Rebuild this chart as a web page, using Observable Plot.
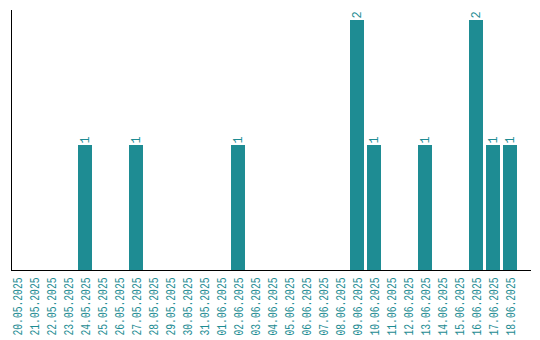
<!DOCTYPE html>
<html>
<head>
<meta charset="utf-8">
<script src="https://cdn.jsdelivr.net/npm/d3@7"></script>
<script src="https://cdn.jsdelivr.net/npm/@observablehq/plot@0.6"></script>
<style>
  html, body { margin: 0; padding: 0; background: #fff; }
  #chart svg { display: block; }
</style>
</head>
<body>
<div id="chart"></div>
<script>
const dates = ["20.05.2025","21.05.2025","22.05.2025","23.05.2025","24.05.2025","25.05.2025","26.05.2025","27.05.2025","28.05.2025","29.05.2025","30.05.2025","31.05.2025","01.06.2025","02.06.2025","03.06.2025","04.06.2025","05.06.2025","06.06.2025","07.06.2025","08.06.2025","09.06.2025","10.06.2025","11.06.2025","12.06.2025","13.06.2025","14.06.2025","15.06.2025","16.06.2025","17.06.2025","18.06.2025"];
const counts = [0,0,0,0,1,0,0,1,0,0,0,0,0,1,0,0,0,0,0,0,2,1,0,0,1,0,0,2,1,1];

const data = dates.map((d, i) => ({date: d, count: counts[i]}));
const nonzero = data.filter(d => d.count > 0);
const teal = "#1e8c93";
const font = "Liberation Mono";

const chart = Plot.plot({
  width: 540,
  height: 340,
  marginLeft: 11,
  marginRight: 10,
  marginTop: 10,
  marginBottom: 70,
  style: {fontFamily: font, fontSize: "12px", background: "#fff"},
  x: {domain: dates, range: [8.5, 518.5], padding: 0.18, paddingOuter: 0.09, label: null},
  y: {domain: [0, 2.08], axis: null},
  marks: [
    Plot.barY(data, {x: "date", y: "count", fill: teal, shapeRendering: "crispEdges"}),
    Plot.text(nonzero, {x: "date", y: "count", text: d => String(d.count), rotate: -90, textAnchor: "start", lineAnchor: "middle", dy: -2, fill: teal, fontFamily: font, fontSize: 12}),
    Plot.axisX({tickSize: 0, tickPadding: 7, tickRotate: -90, fill: teal, label: null, fontFamily: font, fontSize: 13}),
    Plot.frame({anchor: "left", stroke: "#000", shapeRendering: "crispEdges"}),
    Plot.frame({anchor: "bottom", stroke: "#000", shapeRendering: "crispEdges"})
  ]
});
d3.select(chart).selectAll('g[aria-label="x-axis tick label"] text')
  .attr("textLength", 58)
  .attr("lengthAdjust", "spacingAndGlyphs");
document.getElementById("chart").appendChild(chart);
</script>
</body>
</html>
